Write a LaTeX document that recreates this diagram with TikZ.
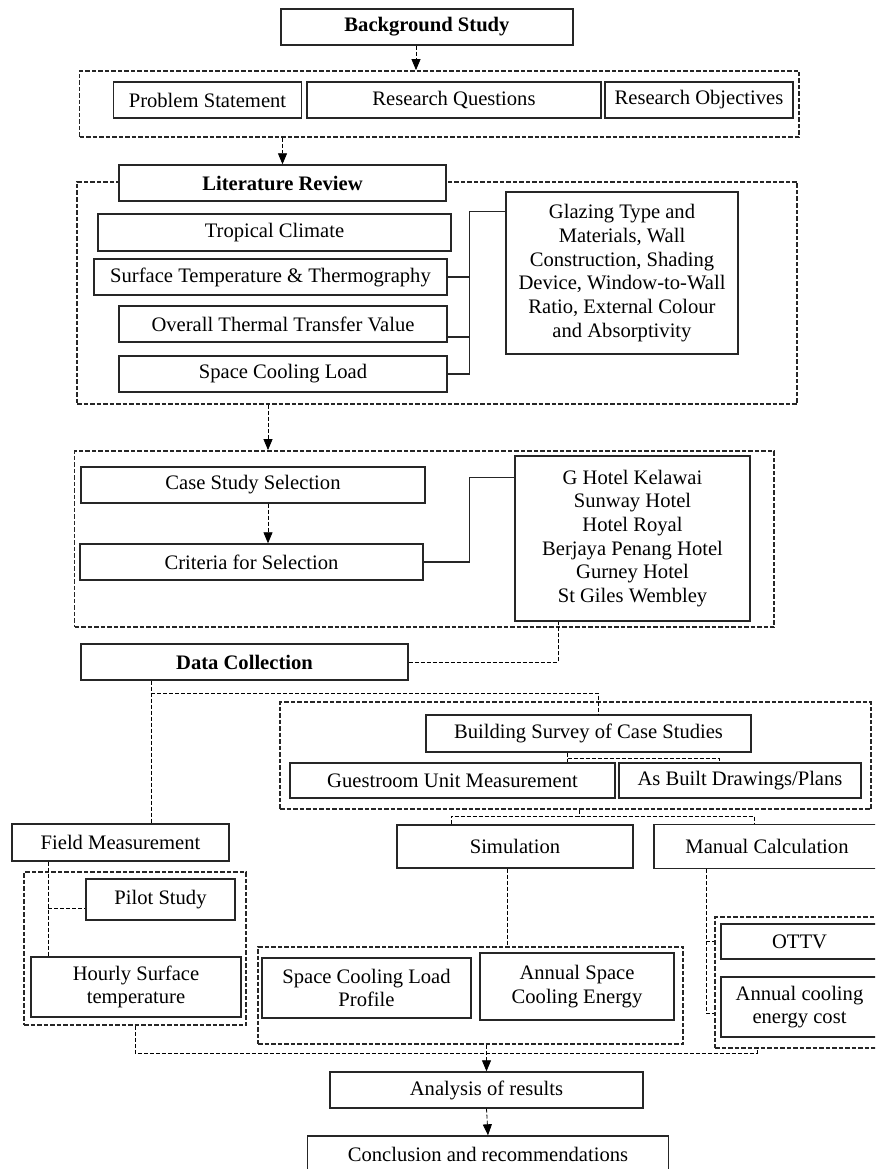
\documentclass[tikz,border=0pt]{standalone}
\usepackage{fontspec}
\setmainfont{Liberation Serif}
\usetikzlibrary{arrows.meta}
\tikzset{>={Triangle[length=11pt,width=9pt]}}

\begin{document}
\begin{tikzpicture}[x=1pt,y=-1pt,
    font=\fontsize{20.6}{23.7}\selectfont,
    box/.style 2 args={draw=black!85,line width=1.4pt,fill=white,align=center,
        inner sep=2pt,minimum width=#1pt,minimum height=#2pt},
    hbox/.style 2 args={box={#1}{#2},font=\fontsize{20.6}{23.7}\selectfont\bfseries},
    grp/.style 2 args={draw=black!85,line width=1.8pt,dash pattern=on 4.5pt off 2pt,
        minimum width=#1pt,minimum height=#2pt},
    conn/.style={line width=0.8pt,dash pattern=on 4pt off 2pt},
    link/.style={line width=1.4pt,draw=black!85}]
    \clip (0,0) rectangle (875,1169);
    % dashed groups
    \node[grp={719.5}{66}] (g1) at (439.25,104) {};
    \node[grp={720}{222}] (g2) at (437,293) {};
    \node[grp={699.5}{176}] (g3) at (424.25,539) {};
    \node[grp={591}{107}] (g4) at (575.5,755.5) {};
    \node[grp={222}{153}] (g5) at (135,948.5) {};
    \node[grp={425}{97}] (g6) at (470.5,995.5) {};
    \node[grp={170}{131}] (g7) at (800,982.5) {};
    % boxes
    \node[hbox={292}{36}] (bg) at (427,27) {Background Study};
    \node[box={188}{36}] (ps) at (207.5,100) {Problem Statement};
    \node[box={294}{36}] (rq) at (454,100) {Research Questions};
    \node[box={188}{36}] (ro) at (699,100) {Research Objectives};
    \node[hbox={327}{36}] (lit) at (282.5,183) {Literature Review};
    \node[box={353}{37}] (trop) at (274.5,232.5) {Tropical Climate};
    \node[box={353}{36}] (surf) at (270.5,277) {Surface Temperature \& Thermography};
    \node[box={328}{36}] (ov) at (283,324) {Overall Thermal Transfer Value};
    \node[box={328}{36}] (scl) at (283,374) {Space Cooling Load};
    \node[box={232}{162}] (glaz) at (622,273) {Glazing Type and\\Materials, Wall\\Construction, Shading\\Device, Window-to-Wall\\Ratio, External Colour\\and Absorptivity};
    \node[box={344}{36}] (css) at (253,485) {Case Study Selection};
    \node[box={343}{36}] (crit) at (251.5,562) {Criteria for Selection};
    \node[box={235}{165}] (hotel) at (632.5,538.5) {G Hotel Kelawai\\Sunway Hotel\\Hotel Royal\\Berjaya Penang Hotel\\Gurney Hotel\\St Giles Wembley};
    \node[hbox={327}{36}] (dc) at (244.5,662) {Data Collection};
    \node[box={325}{37}] (bsc) at (588.5,733.5) {Building Survey of Case Studies};
    \node[box={325}{35}] (gum) at (452.5,780.5) {Guestroom Unit Measurement};
    \node[box={242}{35}] (abd) at (740,780.5) {As Built Drawings/Plans};
    \node[box={217}{37}] (fm) at (120.5,842.5) {Field Measurement};
    \node[box={236}{43}] (sim) at (515,846.5) {Simulation};
    \node[box={226}{44}] (mc) at (767,846.5) {Manual Calculation};
    \node[box={149}{41}] (pilot) at (160.5,899.5) {Pilot Study};
    \node[box={210}{60}] (hst) at (136,987) {Hourly Surface\\temperature};
    \node[box={209}{60}] (sclp) at (366.5,988) {Space Cooling Load\\Profile};
    \node[box={194}{67}] (asce) at (577,986.5) {Annual Space\\Cooling Energy};
    \node[box={157}{35}] (ottv) at (799.5,941.5) {OTTV};
    \node[box={157}{60}] (acec) at (799.5,1007) {Annual cooling\\energy cost};
    \node[box={313}{36}] (ana) at (486.5,1090) {Analysis of results};
    \node[box={361}{36}] (concl) at (488,1154) {Conclusion and recommendations};
    % connectors
    \coordinate (a1) at (416,0);
    \draw[conn,->] (bg.south -| a1) -- (g1.north -| a1);
    \draw[conn,->] (g1.south -| lit) -- (lit.north);
    \coordinate (jn) at (469.5,0);
    \coordinate (gt) at ([yshift=-20pt]glaz.north west);
    \draw[link] (scl.east) -- (scl.east -| jn) |- (gt);
    \draw[link] (surf.east) -- (surf.east -| jn);
    \coordinate (ovj) at ([yshift=-13pt]ov.east);
    \draw[link] (ovj) -- (ovj -| jn);
    \coordinate (a2) at (268,0);
    \draw[conn,->] (g2.south -| a2) -- (g3.north -| a2);
    \draw[conn,->] (css.south -| a2) -- (crit.north -| a2);
    \coordinate (ht) at ([yshift=-22pt]hotel.north west);
    \draw[link] (crit.east) -- (crit.east -| jn) |- (ht);
    \coordinate (hb) at (558,0);
    \draw[conn] (dc.east) -| (hb |- hotel.south);
    \coordinate (dcx) at (151,0);
    \draw[conn] (dc.south -| dcx) -- (fm.north -| dcx);
    \coordinate (br) at (151,693);
    \draw[conn] (br) -| ([xshift=10pt]bsc.north);
    \coordinate (bs) at ([xshift=-21pt]bsc.south);
    \draw[conn] (bs) -- (bs |- gum.north);
    \coordinate (bs2) at ([yshift=-6pt]bs);
    \draw[conn] (bs2) -| ([xshift=-21pt]abd.north);
    \coordinate (gs) at ([xshift=4pt]g4.south);
    \coordinate (sp) at (0,816);
    \coordinate (st) at ([xshift=-64pt]sim.north);
    \coordinate (mt) at ([xshift=-13pt]mc.north);
    \draw[conn] (gs) -- (gs |- sp);
    \draw[conn] (st) -- (st |- sp) -- (mt |- sp) -- (mt);
    \coordinate (fmx) at ([xshift=-72.5pt]fm.south);
    \draw[conn] (fmx) -- (fmx |- hst.north);
    \coordinate (pw) at ([yshift=-9pt]pilot.west);
    \draw[conn] (fmx |- pw) -- (pw);
    \coordinate (sx) at ([xshift=-8pt]sim.south);
    \draw[conn] (sx) -- (sx |- g6.north);
    \coordinate (mx) at ([xshift=-61pt]mc.south);
    \coordinate (ac) at ([yshift=-6pt]acec.west);
    \draw[conn] (mx) |- (g7.west |- ac);
    \draw[conn] (mx |- ottv.west) -- (g7.west |- ottv.west);
    \coordinate (bus) at (0,1053);
    \coordinate (g7b) at (757,1048);
    \draw[conn] (g5.south) -- (g5.south |- bus) -| (g7b);
    \draw[conn,->] (g6.south -| ana.north) -- (ana.north);
    \draw[conn,->] (ana.south) -- (concl.north);
\end{tikzpicture}
\end{document}
